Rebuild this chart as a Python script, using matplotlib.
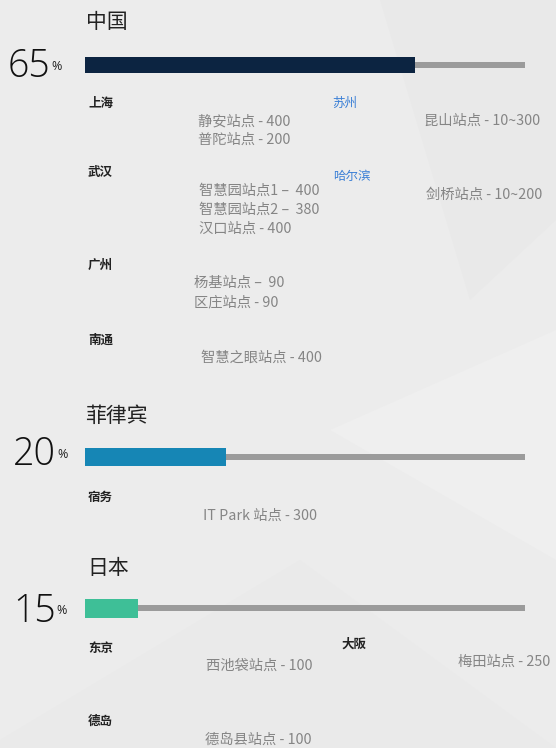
import matplotlib
matplotlib.use("Agg")
import matplotlib.pyplot as plt
from matplotlib.patches import Polygon

plt.rcParams['font.family'] = ['Noto Sans CJK SC', 'DejaVu Sans']

# ---------------- data ----------------
countries = ["中国", "菲律宾", "日本"]
share_labels = ["65", "20", "15"]          # percent shown at left
bar_fill = [75, 32, 12]                     # filled length of track (% of track)
bar_colors = ["#0c2441", "#1686b5", "#3ebf97"]

cities = ["上海", "苏州", "武汉", "哈尔滨", "广州", "南通", "宿务", "东京", "大阪", "德岛"]
city_colors = ["#222222", "#3a7fd6", "#222222", "#3a7fd6", "#222222", "#222222",
               "#222222", "#222222", "#222222", "#222222"]
city_bold = [True, False, True, False, True, True, True, True, True, True]

stations = ["静安站点 - 400", "普陀站点 - 200", "昆山站点 - 10~300",
            "智慧园站点1 –  400", "智慧园站点2 –  380", "汉口站点 - 400",
            "剑桥站点 - 10~200", "杨基站点 –  90", "区庄站点 - 90",
            "智慧之眼站点 - 400", "IT Park 站点 - 300", "西池袋站点 - 100",
            "梅田站点 - 250", "德岛县站点 - 100"]

# ---------------- layout (pixels) ----------------
W, H = 556, 748
fig = plt.figure(figsize=(W / 100, H / 100), dpi=100)
fig.patch.set_facecolor("#ececec")

bg = fig.add_axes([0, 0, 1, 1])
bg.set_xlim(0, W)
bg.set_ylim(H, 0)
bg.axis("off")
bg.set_facecolor("#ececec")

# subtle background facets
bg.add_patch(Polygon([(380, 0), (556, 0), (556, 220), (470, 300)], closed=True,
                     facecolor="#e9e9e9", edgecolor="none", zorder=0))
bg.add_patch(Polygon([(330, 430), (556, 330), (556, 560)], closed=True,
                     facecolor="#efefef", edgecolor="none", zorder=0))
bg.add_patch(Polygon([(0, 740), (300, 560), (556, 748), (0, 748)], closed=True,
                     facecolor="#eaeaea", edgecolor="none", zorder=0))

title_pos = [(86, 22), (85, 416), (87, 568)]
pct_pos = [(8, 67), (13, 455), (13, 612)]
bar_y = [65, 457, 608]
bar_h = [16, 18, 19]
track_h = 6

for i in range(3):
    bg.text(*title_pos[i], countries[i], fontsize=15, color="#222222",
            ha="left", va="center", zorder=3)
    t = bg.text(pct_pos[i][0], pct_pos[i][1], share_labels[i], fontsize=27,
                family=["Open Sans", "DejaVu Sans"], fontweight="light",
                color="#111111", ha="left", va="center", zorder=3)
    fig.canvas.draw()
    bb = t.get_window_extent()
    xpix = bb.x1 + 1
    bg.text(xpix, pct_pos[i][1] - 1, "%", fontsize=9,
            family=["Open Sans", "DejaVu Sans"], color="#222222",
            ha="left", va="center", zorder=3)

    # bar axes
    yc = bar_y[i]
    axh = 24
    ax = fig.add_axes([85 / W, 1 - (yc + axh / 2) / H, 440 / W, axh / H])
    ax.set_xlim(0, 100)
    ax.set_ylim(-axh / 2, axh / 2)
    ax.axis("off")
    ax.patch.set_alpha(0)
    ax.barh(0, 100, height=track_h, color="#9b9b9b", left=0, zorder=1)
    ax.barh(0, bar_fill[i], height=bar_h[i], color=bar_colors[i], zorder=2)

city_pos = [(88, 103), (332, 103), (88, 172), (333, 176), (88, 265), (88, 340),
            (88, 497), (88, 648), (341, 644), (88, 721)]
for name, pos, c, b in zip(cities, city_pos, city_colors, city_bold):
    bg.text(*pos, name, fontsize=9, color=c, fontweight="bold" if b else "medium",
            ha="left", va="center", zorder=3)

station_pos = [(198, 121), (198, 140), (424, 121),
               (199, 191), (199, 210), (199, 229),
               (426, 195), (194, 283), (194, 302),
               (201, 358), (203, 516), (206, 666),
               (458, 662), (205, 740)]
for s, pos in zip(stations, station_pos):
    bg.text(*pos, s, fontsize=10.3, color="#858585", ha="left", va="center", zorder=3)

fig.savefig("out.png", dpi=100, facecolor=fig.get_facecolor())
